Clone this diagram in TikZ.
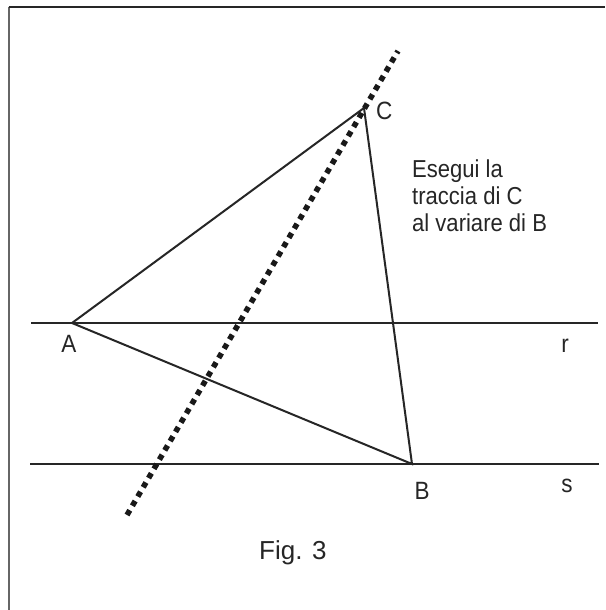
\documentclass[tikz,border=0pt]{standalone}
\usepackage{fontspec}
\setmainfont{Liberation Sans}
\newfontfamily\labfont[FakeStretch=0.9]{Liberation Sans}
\begin{document}
\begin{tikzpicture}[x=1pt,y=-1pt,
  geo/.style={line width=2pt,draw=black!85},
  frameline/.style={line width=2pt},
  trace/.style={line width=5.5pt,draw=black!90,dash pattern=on 5.5pt off 5.2pt},
  lab/.style={inner sep=0pt,font=\labfont\fontsize{25}{27}\selectfont,text=black!85},
  txt/.style={inner sep=0pt,anchor=base west,font=\labfont\fontsize{24.5}{27}\selectfont,text=black!85}]
\useasboundingbox (0,0) rectangle (605,610);
\fill[white] (0,0) rectangle (605,610);
% frame (only top and left edges visible)
\draw[frameline,draw=black!60] (8.5,7.5) -- (8.5,610);
\draw[frameline,draw=black!85] (8.5,7.5) -- (605,7.5);
% points
\coordinate (A) at (72,323);
\coordinate (B) at (412,464);
\coordinate (C) at (364,108);
\coordinate (r1) at (31,323);
\coordinate (r2) at (598,323);
\coordinate (s1) at (30,464);
\coordinate (s2) at (599,464);
\coordinate (t1) at (127,515);
\coordinate (t2) at (398,51);
% lines r and s
\draw[geo] (r1) -- (r2);
\draw[geo] (s1) -- (s2);
% triangle
\draw[geo,line join=miter] (A) -- (C) -- (B) -- cycle;
% trace
\draw[trace] (t1) -- (t2);
% labels
\node[lab,anchor=base] (lA) at (69,352) {A};
\node[lab,anchor=base west] (lC) at (376,119) {C};
\node[lab,anchor=base] (lr) at (565,352) {r};
\node[lab,anchor=base] (lB) at (422,499) {B};
\node[lab,anchor=base] (ls) at (567,492) {s};
\node[txt] (t1l) at (412,177) {Esegui la};
\node[txt] (t2l) at (412,204) {traccia di C};
\node[txt] (t3l) at (412,231) {al variare di B};
\node[inner sep=0pt,anchor=base west,font=\fontsize{26}{28}\selectfont,text=black!85] (fig) at (259,559) {Fig. 3};
\end{tikzpicture}
\end{document}
